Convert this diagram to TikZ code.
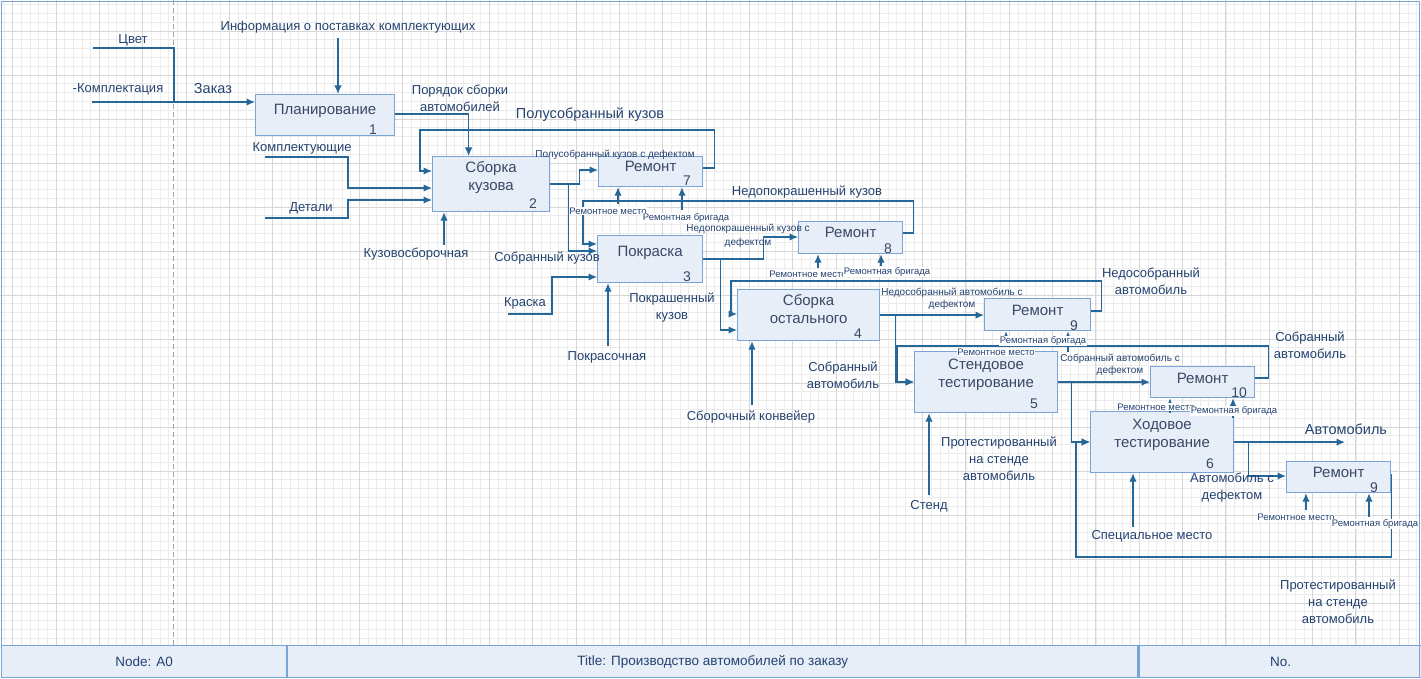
\documentclass[tikz,border=0pt]{standalone}
\usepackage{fontspec}
\setmainfont{Liberation Sans}
\usetikzlibrary{arrows.meta, positioning, calc}

\definecolor{wire}{RGB}{38,103,153}
\definecolor{boxfill}{RGB}{231,238,248}
\definecolor{boxline}{RGB}{122,163,214}
\definecolor{ink}{RGB}{36,66,112}
\definecolor{boxink}{RGB}{58,72,102}
\definecolor{gridminor}{RGB}{236,236,236}
\definecolor{gridmajor}{RGB}{214,214,214}

\begin{document}
\begin{tikzpicture}[
    x=1pt, y=-1pt,
    block/.style={rectangle, draw=boxline, fill=boxfill, line width=1.2pt, anchor=north west, inner sep=0pt},
    title/.style={font=\fontsize{15}{18}\selectfont, text=boxink, align=center, inner sep=0pt},
    num/.style={font=\fontsize{14}{14}\selectfont, text=boxink, inner sep=0pt},
    line/.style={draw=wire, line width=1.3pt, -{Latex[length=8.5pt, width=7.5pt]}},
    pipe/.style={draw=wire, line width=1.3pt},
    lbl/.style={font=\fontsize{13}{17}\selectfont, text=ink, align=center, inner sep=1pt},
    big/.style={lbl, font=\fontsize{14.5}{17}\selectfont},
    small/.style={lbl, font=\fontsize{10}{12}\selectfont},
    tiny/.style={lbl, font=\fontsize{9.5}{11}\selectfont, fill=white, inner sep=0.5pt},
    cell/.style={rectangle, draw=boxline, fill=boxfill, line width=1.2pt, minimum height=32pt, inner sep=0pt, font=\fontsize{13.5}{16}\selectfont, text=ink}
]
    \useasboundingbox (0,0) rectangle (1421,679);

    % Grid
    \foreach \k in {0,...,163}
        \draw[gridminor, line width=0.8pt] ({4+8.667*\k},0) -- ({4+8.667*\k},645);
    \foreach \k in {0,...,72}
        \draw[gridminor, line width=0.8pt] (0,{4.6+8.8*\k}) -- (1421,{4.6+8.8*\k});
    \foreach \k in {0,...,32}
        \draw[gridmajor, line width=0.9pt] ({12.67+43.33*\k},0) -- ({12.67+43.33*\k},645);
    \foreach \k in {0,...,13}
        \draw[gridmajor, line width=0.9pt] (0,{31+44*\k}) -- (1421,{31+44*\k});
    \draw[gray!70, line width=1pt, dash pattern=on 5pt off 3pt] (173.5,0) -- (173.5,645);

    % Function boxes
    \node[block, minimum width=139, minimum height=41] (plan) at (255,94) {};
    \node[block, minimum width=117, minimum height=55] (body) at (432,156) {};
    \node[block, minimum width=104, minimum height=30] (rem7) at (598,156) {};
    \node[block, minimum width=105, minimum height=47] (paint) at (597,235) {};
    \node[block, minimum width=104, minimum height=32] (rem8) at (798,221) {};
    \node[block, minimum width=142, minimum height=51] (rest) at (737,289) {};
    \node[block, minimum width=106, minimum height=32] (rem9) at (984,298) {};
    \node[block, minimum width=143, minimum height=61] (stand) at (914,351) {};
    \node[block, minimum width=104, minimum height=31] (rem10) at (1150,366) {};
    \node[block, minimum width=143, minimum height=61] (drive) at (1090,411) {};
    \node[block, minimum width=104, minimum height=31] (rem9b) at (1286,461) {};

    % Titles and numbers
    \node[title, below=9.5pt of plan.north] (plant) {Планирование};
    \node[title, below=5pt of body.north] (bodyt) {Сборка\\кузова};
    \node[title, below=5pt of rem7.north] (rem7t) {Ремонт};
    \node[title, below=10.5pt of paint.north] (paintt) {Покраска};
    \node[title, below=6pt of rem8.north] (rem8t) {Ремонт};
    \node[title, below=5pt of rest.north] (restt) {Сборка\\остального};
    \node[title, below=7pt of rem9.north] (rem9t) {Ремонт};
    \node[title, below=8pt of stand.north] (standt) {Стендовое\\тестирование};
    \node[title, below=7pt of rem10.north] (rem10t) {Ремонт};
    \node[title, below=8pt of drive.north] (drivet) {Ходовое\\тестирование};
    \node[title, below=6pt of rem9b.north] (rem9bt) {Ремонт};

    \node[num, above left=1pt and 18pt of plan.south east] (plann) {1};
    \node[num, above left=3pt and 13pt of body.south east] (bodyn) {2};
    \node[num, above left=1pt and 12pt of rem7.south east] (rem7n) {7};
    \node[num, above left=1.5pt and 12pt of paint.south east] (paintn) {3};
    \node[num, above left=0pt and 11pt of rem8.south east] (rem8n) {8};
    \node[num, above left=3pt and 18pt of rest.south east] (restn) {4};
    \node[num, above left=0pt and 13pt of rem9.south east] (rem9n) {9};
    \node[num, above left=4pt and 20pt of stand.south east] (standn) {5};
    \node[num, above left=0pt and 8pt of rem10.south east] (rem10n) {10};
    \node[num, above left=4pt and 20pt of drive.south east] (driven) {6};
    \node[num, above left=0pt and 13pt of rem9b.south east] (rem9bn) {9};

    % Free ends
    \coordinate (cvet) at (93,48);
    \coordinate (zakaz) at (174,102);
    \coordinate (kompl) at (92,102);
    \coordinate (info) at (338,38);
    \coordinate (kompt) at (265,157);
    \coordinate (detal) at (265,218);
    \coordinate (kuzsb) at (444,245);
    \coordinate (rm7) at (618,204);
    \coordinate (rb7) at (682,210);
    \coordinate (kraska) at (508,314);
    \coordinate (pokr) at (608,346);
    \coordinate (rm8) at (818,268);
    \coordinate (rb8) at (881,266);
    \coordinate (konv) at (752,405);
    \coordinate (rm9) at (1006,346);
    \coordinate (rb9) at (1068,352);
    \coordinate (stend) at (929,495);
    \coordinate (rm10) at (1170,413);
    \coordinate (rb10) at (1233,418);
    \coordinate (spec) at (1133,527);
    \coordinate (auto) at (1345,442);
    \coordinate (rm9b) at (1306,510);
    \coordinate (rb9b) at (1369,517);

    % Connections
    \path[pipe] (cvet) -| (zakaz);
    \path[line] (kompl) -- (kompl -| plan.west);
    \path[line] (info) -- (info |- plan.north);
    \path[line] ([yshift=-20]plan.north east) -| ([xshift=-22.5]body.north);

    \path[line] ([yshift=-12]rem7.north east) -- ++(11,0) -- ++(0,-38) -| ([xshift=-12,yshift=-15]body.north west) -- ([yshift=-15]body.north west);
    \path[line] (kompt) -- ++(83,0) |- ([yshift=-32]body.north west);
    \path[line] (detal) -- ++(83,0) |- ([yshift=-44]body.north west);
    \path[line] (kuzsb) -- (kuzsb |- body.south);
    \path[line] (body.east) -- ++(29,0) |- ([yshift=-14]rem7.north west);
    \path[line] ([xshift=18]body.east) |- ([yshift=-16]paint.north west);
    \path[line] (rm7) -- (rm7 |- rem7.south);
    \path[line] (rb7) -- (rb7 |- rem7.south);

    \path[line] ([yshift=-12]rem8.north east) -- ++(10,0) -- ++(0,-32) -| ([xshift=-14,yshift=-9]paint.north west) -- ([yshift=-9]paint.north west);
    \path[line] (kraska) -- ++(44,0) |- ([yshift=-42]paint.north west);
    \path[line] (pokr) -- (pokr |- paint.south);
    \path[line] (paint.east) -- ++(60,0) |- ([yshift=-16]rem8.north west);
    \path[line] ([xshift=17]paint.east) |- ([yshift=-41]rest.north west);
    \path[line] (rm8) -- (rm8 |- rem8.south);
    \path[line] (rb8) -- (rb8 |- rem8.south);

    \path[line] ([yshift=-13]rem9.north east) -- ++(10,0) -- ++(0,-30) -| ([xshift=-6,yshift=-25]rest.north west) -- ([yshift=-25]rest.north west);
    \path[line] (konv) -- (konv |- rest.south);
    \path[line] (rest.east) -- (rest.east -| rem9.west);
    \path[line] ([xshift=15]rest.east) |- ([yshift=-31]stand.north west);
    \path[line] (rm9) -- (rm9 |- rem9.south);
    \path[line] (rb9) -- (rb9 |- rem9.south);

    \path[line] ([yshift=-12]rem10.north east) -- ++(13,0) -- ++(0,-32) -| ([xshift=-17,yshift=-31]stand.north west) -- ([yshift=-31]stand.north west);
    \path[line] (stend) -- (stend |- stand.south);
    \path[line] (stand.east) -- (stand.east -| rem10.west);
    \path[line] ([xshift=13]stand.east) |- ([yshift=-31]drive.north west);
    \path[line] (rm10) -- (rm10 |- rem10.south);
    \path[line] (rb10) -- (rb10 |- rem10.south);

    \path[line] ([yshift=-13]rem9b.north east) -- ++(0,83) -| ([xshift=-14,yshift=-31]drive.north west) -- ([yshift=-31]drive.north west);
    \path[line] (spec) -- (spec |- drive.south);
    \path[line] (drive.east) -- (drive.east -| auto);
    \path[line] ([xshift=14]drive.east) |- ([yshift=-15]rem9b.north west);
    \path[line] (rm9b) -- (rm9b |- rem9b.south);
    \path[line] (rb9b) -- (rb9b |- rem9b.south);

    % Labels
    \node[lbl] (lcvet) at (133,40) {Цвет};
    \node[lbl] (lkompl) at (118,89) {-Комплектация};
    \node[big] (lzakaz) at (213,89) {Заказ};
    \node[lbl] (linfo) at (348,27) {Информация о поставках комплектующих};
    \node[lbl] (lorder) at (460,98) {Порядок сборки\\автомобилей};
    \node[big] (lsemi) at (590,115) {Полусобранный кузов};
    \node[lbl] (lkompt) at (302,148) {Комплектующие};
    \node[lbl] (ldetal) at (311,208) {Детали};
    \node[lbl] (lkuzsb) at (416,254) {Кузовосборочная};
    \node[small] (lsemid) at (615,155) {Полусобранный кузов с дефектом};
    \node[tiny] (lrm7) at (608,211) {Ремонтное место};
    \node[tiny] (lrb7) at (686,218) {Ремонтная бригада};
    \node[lbl] (lunp) at (807,192) {Недопокрашенный кузов};
    \node[lbl] (lbody) at (547,258) {Собранный кузов};
    \node[small, font=\fontsize{10}{14}\selectfont] (lunpd) at (748,236) {Недопокрашенный кузов с\\дефектом};
    \node[lbl] (lkraska) at (525,303) {Краска};
    \node[lbl] (lpokr) at (607,357) {Покрасочная};
    \node[lbl] (lpainted) at (672,308) {Покрашенный\\кузов};
    \node[tiny] (lrm8) at (808,274) {Ремонтное место};
    \node[tiny] (lrb8) at (887,272) {Ремонтная бригада};
    \node[lbl] (lunas) at (1151,281) {Недособранный\\автомобиль};
    \node[lbl] (lkonv) at (751,417) {Сборочный конвейер};
    \node[small] (lunasd) at (952,299) {Недособранный автомобиль с\\дефектом};
    \node[lbl] (lasm) at (843,375) {Собранный\\автомобиль};
    \node[tiny] (lrm9) at (996,352) {Ремонтное место};
    \node[tiny] (lrb9) at (1043,341) {Ремонтная бригада};
    \node[small] (lasmd) at (1120,365) {Собранный автомобиль с\\дефектом};
    \node[lbl] (lasm2) at (1310,345) {Собранный\\автомобиль};
    \node[lbl] (ltested) at (999,459) {Протестированный\\на стенде\\автомобиль};
    \node[lbl] (lstend) at (929,506) {Стенд};
    \node[tiny] (lrm10) at (1156,407) {Ремонтное место};
    \node[tiny] (lrb10) at (1234,411) {Ремонтная бригада};
    \node[big] (lauto) at (1346,429) {Автомобиль};
    \node[lbl] (lautod) at (1232,488) {Автомобиль с\\дефектом};
    \node[lbl] (lspec) at (1152,536) {Специальное место};
    \node[tiny] (lrm9b) at (1296,517) {Ремонтное место};
    \node[tiny] (lrb9b) at (1375,524) {Ремонтная бригада};
    \node[lbl] (ltested2) at (1338,602) {Протестированный\\на стенде\\автомобиль};

    % Footer
    \node[cell, minimum width=285, anchor=north west] (nodecell) at (1,645) {Node: A0};
    \node[cell, minimum width=850, right=0pt of nodecell] (titlecell) {Title: Производство автомобилей по заказу};
    \node[cell, minimum width=283, right=0pt of titlecell] (nocell) {No.};

    % Frame
    \draw[boxline, line width=1.2pt] (1.5,1.5) rectangle (1419.5,677.5);
\end{tikzpicture}
\end{document}
